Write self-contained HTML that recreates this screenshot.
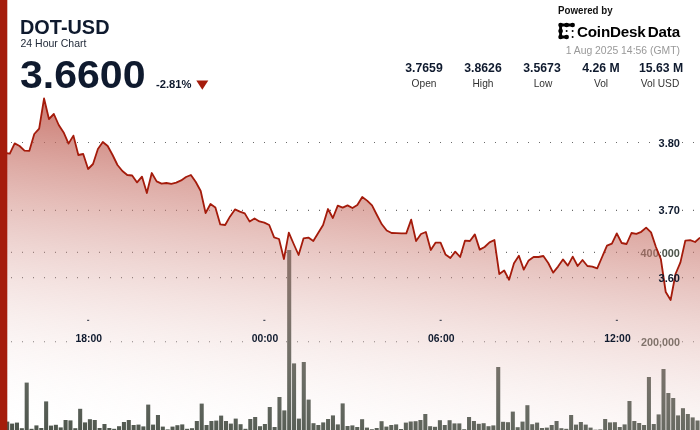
<!DOCTYPE html>
<html><head><meta charset="utf-8"><title>DOT-USD 24 Hour Chart</title>
<style>
html,body{margin:0;padding:0;background:#fff;}
body{width:700px;height:430px;overflow:hidden;font-family:"Liberation Sans","DejaVu Sans",sans-serif;}
#wrap{position:relative;width:700px;height:430px;overflow:hidden;background:#fff;}
#wrap svg{position:absolute;left:0;top:0;will-change:transform;opacity:0.999;}
#hdr{position:absolute;left:0;top:0;width:700px;height:100px;will-change:transform;opacity:0.999;}
.t{position:absolute;white-space:nowrap;line-height:1;color:#0f1a2e;}
.b{font-weight:bold;}
.c{transform:translateX(-50%);text-align:center;}
.v{transform:translateX(-50%) scaleX(1.02);}
.l{transform:translateX(-50%) scaleX(0.97);}
</style></head><body>
<div id="wrap">
<svg width="700" height="430" viewBox="0 0 700 430">
<defs>
<linearGradient id="g" x1="48.8" y1="-4.1" x2="0.0" y2="434.9" gradientUnits="userSpaceOnUse"><stop offset="0.0000" stop-color="rgb(165,28,12)" stop-opacity="1.0000"/><stop offset="0.0250" stop-color="rgb(167,34,18)" stop-opacity="0.9750"/><stop offset="0.0500" stop-color="rgb(170,39,24)" stop-opacity="0.9500"/><stop offset="0.0750" stop-color="rgb(172,45,30)" stop-opacity="0.9250"/><stop offset="0.1000" stop-color="rgb(174,51,36)" stop-opacity="0.9000"/><stop offset="0.1250" stop-color="rgb(176,56,42)" stop-opacity="0.8750"/><stop offset="0.1500" stop-color="rgb(178,62,48)" stop-opacity="0.8500"/><stop offset="0.1750" stop-color="rgb(181,68,55)" stop-opacity="0.8250"/><stop offset="0.2000" stop-color="rgb(183,73,61)" stop-opacity="0.8000"/><stop offset="0.2250" stop-color="rgb(185,79,67)" stop-opacity="0.7750"/><stop offset="0.2500" stop-color="rgb(188,85,73)" stop-opacity="0.7500"/><stop offset="0.2750" stop-color="rgb(190,90,79)" stop-opacity="0.7250"/><stop offset="0.3000" stop-color="rgb(192,96,85)" stop-opacity="0.7000"/><stop offset="0.3250" stop-color="rgb(194,102,91)" stop-opacity="0.6750"/><stop offset="0.3500" stop-color="rgb(196,107,97)" stop-opacity="0.6500"/><stop offset="0.3750" stop-color="rgb(199,113,103)" stop-opacity="0.6250"/><stop offset="0.4000" stop-color="rgb(201,119,109)" stop-opacity="0.6000"/><stop offset="0.4250" stop-color="rgb(203,124,115)" stop-opacity="0.5750"/><stop offset="0.4500" stop-color="rgb(206,130,121)" stop-opacity="0.5500"/><stop offset="0.4750" stop-color="rgb(208,136,127)" stop-opacity="0.5250"/><stop offset="0.5000" stop-color="rgb(210,142,134)" stop-opacity="0.5000"/><stop offset="0.5250" stop-color="rgb(212,147,140)" stop-opacity="0.4750"/><stop offset="0.5500" stop-color="rgb(214,153,146)" stop-opacity="0.4500"/><stop offset="0.5750" stop-color="rgb(217,159,152)" stop-opacity="0.4250"/><stop offset="0.6000" stop-color="rgb(219,164,158)" stop-opacity="0.4000"/><stop offset="0.6250" stop-color="rgb(221,170,164)" stop-opacity="0.3750"/><stop offset="0.6500" stop-color="rgb(224,176,170)" stop-opacity="0.3500"/><stop offset="0.6750" stop-color="rgb(226,181,176)" stop-opacity="0.3250"/><stop offset="0.7000" stop-color="rgb(228,187,182)" stop-opacity="0.3000"/><stop offset="0.7250" stop-color="rgb(230,193,188)" stop-opacity="0.2750"/><stop offset="0.7500" stop-color="rgb(232,198,194)" stop-opacity="0.2500"/><stop offset="0.7750" stop-color="rgb(235,204,200)" stop-opacity="0.2250"/><stop offset="0.8000" stop-color="rgb(237,210,206)" stop-opacity="0.2000"/><stop offset="0.8250" stop-color="rgb(239,215,212)" stop-opacity="0.1750"/><stop offset="0.8500" stop-color="rgb(242,221,219)" stop-opacity="0.1500"/><stop offset="0.8750" stop-color="rgb(244,227,225)" stop-opacity="0.1250"/><stop offset="0.9000" stop-color="rgb(246,232,231)" stop-opacity="0.1000"/><stop offset="0.9250" stop-color="rgb(248,238,237)" stop-opacity="0.0750"/><stop offset="0.9500" stop-color="rgb(250,244,243)" stop-opacity="0.0500"/><stop offset="0.9750" stop-color="rgb(253,249,249)" stop-opacity="0.0250"/><stop offset="1.0000" stop-color="rgb(255,255,255)" stop-opacity="0.0000"/></linearGradient>
</defs>
<g stroke="#6a6a6a" stroke-width="1.1" stroke-dasharray="1 10" fill="none">
<line x1="11" x2="700" y1="142.45" y2="142.45"/>
<line x1="11" x2="700" y1="210.35" y2="210.35"/>
<line x1="11" x2="700" y1="277.6" y2="277.6"/>
<line x1="11" x2="700" y1="252.4" y2="252.4"/>
<line x1="11" x2="700" y1="341.8" y2="341.8"/>
</g>
<g font-family="Liberation Sans, DejaVu Sans, sans-serif" font-weight="bold" font-size="10.5" fill="#fff" stroke="#fff" stroke-width="2.5" stroke-linejoin="round"><text transform="translate(680,146.5) scale(1.05,1)" text-anchor="end">3.80</text><text transform="translate(680,214.3) scale(1.05,1)" text-anchor="end">3.70</text><text transform="translate(680,282.1) scale(1.05,1)" text-anchor="end">3.60</text><text transform="translate(679.8,256.6) scale(1.035,1)" text-anchor="end">400,000</text><text transform="translate(680.0,346.2) scale(1.03,1)" text-anchor="end">200,000</text><text transform="translate(88.7,341.5) scale(0.935,1)" text-anchor="middle" font-size="11.1">18:00</text><text transform="translate(264.9,341.5) scale(0.935,1)" text-anchor="middle" font-size="11.1">00:00</text><text transform="translate(441.2,341.5) scale(0.935,1)" text-anchor="middle" font-size="11.1">06:00</text><text transform="translate(617.4,341.5) scale(0.935,1)" text-anchor="middle" font-size="11.1">12:00</text></g>
<g font-family="Liberation Sans, DejaVu Sans, sans-serif" font-weight="bold" font-size="10.5" text-anchor="end" fill="#4a5249">
<text transform="translate(679.8,256.6) scale(1.035,1)" text-anchor="end">400,000</text><text transform="translate(680.0,346.2) scale(1.03,1)" text-anchor="end">200,000</text>
</g>
<g fill="#4a5249">
<rect x="0.36" y="424.00" width="4.06" height="8.00"/>
<rect x="5.22" y="421.60" width="4.06" height="10.40"/>
<rect x="10.08" y="423.60" width="4.06" height="8.40"/>
<rect x="14.94" y="422.60" width="4.06" height="9.40"/>
<rect x="19.80" y="428.20" width="4.06" height="3.80"/>
<rect x="24.67" y="382.60" width="4.06" height="49.40"/>
<rect x="29.53" y="428.80" width="4.06" height="3.20"/>
<rect x="34.39" y="425.40" width="4.06" height="6.60"/>
<rect x="39.25" y="428.00" width="4.06" height="4.00"/>
<rect x="44.11" y="401.40" width="4.06" height="30.60"/>
<rect x="48.97" y="425.60" width="4.06" height="6.40"/>
<rect x="53.83" y="424.80" width="4.06" height="7.20"/>
<rect x="58.69" y="427.40" width="4.06" height="4.60"/>
<rect x="63.55" y="420.00" width="4.06" height="12.00"/>
<rect x="68.42" y="420.40" width="4.06" height="11.60"/>
<rect x="73.28" y="428.20" width="4.06" height="3.80"/>
<rect x="78.14" y="408.80" width="4.06" height="23.20"/>
<rect x="83.00" y="422.40" width="4.06" height="9.60"/>
<rect x="87.86" y="419.20" width="4.06" height="12.80"/>
<rect x="92.72" y="420.00" width="4.06" height="12.00"/>
<rect x="97.58" y="428.00" width="4.06" height="4.00"/>
<rect x="102.44" y="424.00" width="4.06" height="8.00"/>
<rect x="107.30" y="428.00" width="4.06" height="4.00"/>
<rect x="112.17" y="428.80" width="4.06" height="3.20"/>
<rect x="117.03" y="426.20" width="4.06" height="5.80"/>
<rect x="121.89" y="422.00" width="4.06" height="10.00"/>
<rect x="126.75" y="420.00" width="4.06" height="12.00"/>
<rect x="131.61" y="425.00" width="4.06" height="7.00"/>
<rect x="136.47" y="424.60" width="4.06" height="7.40"/>
<rect x="141.33" y="426.40" width="4.06" height="5.60"/>
<rect x="146.19" y="404.60" width="4.06" height="27.40"/>
<rect x="151.05" y="424.60" width="4.06" height="7.40"/>
<rect x="155.92" y="415.00" width="4.06" height="17.00"/>
<rect x="160.78" y="426.60" width="4.06" height="5.40"/>
<rect x="165.64" y="429.40" width="4.06" height="2.60"/>
<rect x="170.50" y="426.60" width="4.06" height="5.40"/>
<rect x="175.36" y="425.20" width="4.06" height="6.80"/>
<rect x="180.22" y="424.40" width="4.06" height="7.60"/>
<rect x="185.08" y="428.80" width="4.06" height="3.20"/>
<rect x="189.94" y="428.20" width="4.06" height="3.80"/>
<rect x="194.80" y="421.00" width="4.06" height="11.00"/>
<rect x="199.67" y="403.60" width="4.06" height="28.40"/>
<rect x="204.53" y="425.00" width="4.06" height="7.00"/>
<rect x="209.39" y="421.00" width="4.06" height="11.00"/>
<rect x="214.25" y="420.60" width="4.06" height="11.40"/>
<rect x="219.11" y="415.60" width="4.06" height="16.40"/>
<rect x="223.97" y="421.00" width="4.06" height="11.00"/>
<rect x="228.83" y="423.60" width="4.06" height="8.40"/>
<rect x="233.69" y="418.60" width="4.06" height="13.40"/>
<rect x="238.55" y="424.20" width="4.06" height="7.80"/>
<rect x="243.42" y="428.80" width="4.06" height="3.20"/>
<rect x="248.28" y="419.00" width="4.06" height="13.00"/>
<rect x="253.14" y="417.00" width="4.06" height="15.00"/>
<rect x="258.00" y="426.20" width="4.06" height="5.80"/>
<rect x="262.86" y="424.00" width="4.06" height="8.00"/>
<rect x="267.72" y="407.00" width="4.06" height="25.00"/>
<rect x="272.58" y="427.00" width="4.06" height="5.00"/>
<rect x="277.44" y="397.00" width="4.06" height="35.00"/>
<rect x="282.30" y="410.40" width="4.06" height="21.60"/>
<rect x="287.17" y="250.00" width="4.06" height="182.00"/>
<rect x="292.03" y="363.40" width="4.06" height="68.60"/>
<rect x="296.89" y="418.60" width="4.06" height="13.40"/>
<rect x="301.75" y="362.00" width="4.06" height="70.00"/>
<rect x="306.61" y="399.60" width="4.06" height="32.40"/>
<rect x="311.47" y="423.20" width="4.06" height="8.80"/>
<rect x="316.33" y="425.00" width="4.06" height="7.00"/>
<rect x="321.19" y="422.40" width="4.06" height="9.60"/>
<rect x="326.05" y="419.00" width="4.06" height="13.00"/>
<rect x="330.92" y="415.40" width="4.06" height="16.60"/>
<rect x="335.78" y="424.40" width="4.06" height="7.60"/>
<rect x="340.64" y="403.40" width="4.06" height="28.60"/>
<rect x="345.50" y="426.00" width="4.06" height="6.00"/>
<rect x="350.36" y="425.40" width="4.06" height="6.60"/>
<rect x="355.22" y="427.00" width="4.06" height="5.00"/>
<rect x="360.08" y="419.20" width="4.06" height="12.80"/>
<rect x="364.94" y="427.60" width="4.06" height="4.40"/>
<rect x="369.80" y="429.20" width="4.06" height="2.80"/>
<rect x="374.67" y="428.00" width="4.06" height="4.00"/>
<rect x="379.53" y="421.20" width="4.06" height="10.80"/>
<rect x="384.39" y="426.60" width="4.06" height="5.40"/>
<rect x="389.25" y="425.00" width="4.06" height="7.00"/>
<rect x="394.11" y="424.40" width="4.06" height="7.60"/>
<rect x="398.97" y="429.00" width="4.06" height="3.00"/>
<rect x="403.83" y="422.60" width="4.06" height="9.40"/>
<rect x="408.69" y="421.50" width="4.06" height="10.50"/>
<rect x="413.55" y="421.20" width="4.06" height="10.80"/>
<rect x="418.42" y="420.00" width="4.06" height="12.00"/>
<rect x="423.28" y="414.00" width="4.06" height="18.00"/>
<rect x="428.14" y="426.20" width="4.06" height="5.80"/>
<rect x="433.00" y="426.80" width="4.06" height="5.20"/>
<rect x="437.86" y="420.20" width="4.06" height="11.80"/>
<rect x="442.72" y="425.00" width="4.06" height="7.00"/>
<rect x="447.58" y="420.20" width="4.06" height="11.80"/>
<rect x="452.44" y="423.40" width="4.06" height="8.60"/>
<rect x="457.30" y="423.40" width="4.06" height="8.60"/>
<rect x="462.17" y="429.20" width="4.06" height="2.80"/>
<rect x="467.03" y="417.00" width="4.06" height="15.00"/>
<rect x="471.89" y="421.00" width="4.06" height="11.00"/>
<rect x="476.75" y="423.80" width="4.06" height="8.20"/>
<rect x="481.61" y="423.20" width="4.06" height="8.80"/>
<rect x="486.47" y="426.20" width="4.06" height="5.80"/>
<rect x="491.33" y="425.40" width="4.06" height="6.60"/>
<rect x="496.19" y="367.00" width="4.06" height="65.00"/>
<rect x="501.05" y="421.80" width="4.06" height="10.20"/>
<rect x="505.92" y="422.20" width="4.06" height="9.80"/>
<rect x="510.78" y="411.60" width="4.06" height="20.40"/>
<rect x="515.64" y="427.20" width="4.06" height="4.80"/>
<rect x="520.50" y="421.60" width="4.06" height="10.40"/>
<rect x="525.36" y="405.20" width="4.06" height="26.80"/>
<rect x="530.22" y="424.20" width="4.06" height="7.80"/>
<rect x="535.08" y="422.60" width="4.06" height="9.40"/>
<rect x="539.94" y="428.00" width="4.06" height="4.00"/>
<rect x="544.80" y="427.60" width="4.06" height="4.40"/>
<rect x="549.67" y="425.00" width="4.06" height="7.00"/>
<rect x="554.53" y="421.00" width="4.06" height="11.00"/>
<rect x="559.39" y="428.20" width="4.06" height="3.80"/>
<rect x="564.25" y="428.80" width="4.06" height="3.20"/>
<rect x="569.11" y="415.00" width="4.06" height="17.00"/>
<rect x="573.97" y="424.60" width="4.06" height="7.40"/>
<rect x="578.83" y="422.00" width="4.06" height="10.00"/>
<rect x="583.69" y="424.60" width="4.06" height="7.40"/>
<rect x="588.55" y="427.60" width="4.06" height="4.40"/>
<rect x="593.42" y="429.70" width="4.06" height="2.30"/>
<rect x="598.28" y="429.40" width="4.06" height="2.60"/>
<rect x="603.14" y="419.00" width="4.06" height="13.00"/>
<rect x="608.00" y="422.40" width="4.06" height="9.60"/>
<rect x="612.86" y="422.20" width="4.06" height="9.80"/>
<rect x="617.72" y="427.00" width="4.06" height="5.00"/>
<rect x="622.58" y="424.40" width="4.06" height="7.60"/>
<rect x="627.44" y="401.00" width="4.06" height="31.00"/>
<rect x="632.30" y="421.00" width="4.06" height="11.00"/>
<rect x="637.17" y="423.00" width="4.06" height="9.00"/>
<rect x="642.03" y="425.00" width="4.06" height="7.00"/>
<rect x="646.89" y="377.00" width="4.06" height="55.00"/>
<rect x="651.75" y="424.00" width="4.06" height="8.00"/>
<rect x="656.61" y="414.40" width="4.06" height="17.60"/>
<rect x="661.47" y="369.00" width="4.06" height="63.00"/>
<rect x="666.33" y="393.00" width="4.06" height="39.00"/>
<rect x="671.19" y="398.00" width="4.06" height="34.00"/>
<rect x="676.05" y="415.40" width="4.06" height="16.60"/>
<rect x="680.92" y="408.20" width="4.06" height="23.80"/>
<rect x="685.78" y="414.00" width="4.06" height="18.00"/>
<rect x="690.64" y="417.40" width="4.06" height="14.60"/>
<rect x="695.50" y="420.50" width="4.06" height="11.50"/>
</g>
<path d="M0.00,153.00 L4.90,153.00 L9.79,153.60 L14.69,143.40 L19.58,146.00 L24.48,150.60 L29.37,150.80 L34.27,134.00 L39.16,128.60 L44.06,98.50 L48.95,119.00 L53.85,114.00 L58.74,125.00 L63.64,132.40 L68.53,143.60 L73.43,135.60 L78.32,155.00 L83.22,154.00 L88.11,169.00 L93.01,164.00 L97.90,149.00 L102.80,142.00 L107.69,146.00 L112.59,155.00 L117.48,165.00 L122.38,171.00 L127.27,175.00 L132.17,175.50 L137.06,182.40 L141.96,176.60 L146.85,193.00 L151.75,173.00 L156.64,181.40 L161.54,183.60 L166.43,183.00 L171.33,183.80 L176.22,182.60 L181.12,180.40 L186.01,177.00 L190.91,175.00 L195.80,182.00 L200.70,191.00 L205.59,213.00 L210.49,204.00 L215.38,207.40 L220.28,224.40 L225.17,225.00 L230.07,216.40 L234.97,209.40 L239.86,211.60 L244.76,213.40 L249.65,221.60 L254.55,218.40 L259.44,221.40 L264.34,222.60 L269.23,225.00 L274.13,237.40 L279.02,239.00 L283.92,259.00 L288.81,232.60 L293.71,244.00 L298.60,255.00 L303.50,238.40 L308.39,237.60 L313.29,241.00 L318.18,233.00 L323.08,225.00 L327.97,209.00 L332.87,218.00 L337.76,205.60 L342.66,207.60 L347.55,205.40 L352.45,208.00 L357.34,205.00 L362.24,197.00 L367.13,200.60 L372.03,205.40 L376.92,215.00 L381.82,224.30 L386.71,230.50 L391.61,233.00 L396.50,233.20 L401.40,233.40 L406.29,233.40 L411.19,219.60 L416.08,241.00 L420.98,234.00 L425.87,232.00 L430.77,250.00 L435.66,242.60 L440.56,242.60 L445.45,254.40 L450.35,258.00 L455.24,251.60 L460.14,257.00 L465.03,240.60 L469.93,241.00 L474.83,234.40 L479.72,249.60 L484.62,247.00 L489.51,242.40 L494.41,240.00 L499.30,274.00 L504.20,270.50 L509.09,279.80 L513.99,263.30 L518.88,255.80 L523.78,269.60 L528.67,260.40 L533.57,257.00 L538.46,257.00 L543.36,256.00 L548.25,263.00 L553.15,272.60 L558.04,266.60 L562.94,259.40 L567.83,265.60 L572.73,256.60 L577.62,266.00 L582.52,260.00 L587.41,266.00 L592.31,266.60 L597.20,268.40 L602.10,257.00 L606.99,245.60 L611.89,243.60 L616.78,233.40 L621.68,243.00 L626.57,244.00 L631.47,233.00 L636.36,233.80 L641.26,231.80 L646.15,227.60 L651.05,232.40 L655.94,247.00 L660.84,259.00 L665.73,292.00 L670.63,300.00 L675.52,274.00 L680.42,262.40 L685.31,240.60 L690.21,240.20 L695.10,242.00 L700.00,237.60 L700,430 L0,430 Z" fill="url(#g)"/>
<path d="M0.00,153.00 L4.90,153.00 L9.79,153.60 L14.69,143.40 L19.58,146.00 L24.48,150.60 L29.37,150.80 L34.27,134.00 L39.16,128.60 L44.06,98.50 L48.95,119.00 L53.85,114.00 L58.74,125.00 L63.64,132.40 L68.53,143.60 L73.43,135.60 L78.32,155.00 L83.22,154.00 L88.11,169.00 L93.01,164.00 L97.90,149.00 L102.80,142.00 L107.69,146.00 L112.59,155.00 L117.48,165.00 L122.38,171.00 L127.27,175.00 L132.17,175.50 L137.06,182.40 L141.96,176.60 L146.85,193.00 L151.75,173.00 L156.64,181.40 L161.54,183.60 L166.43,183.00 L171.33,183.80 L176.22,182.60 L181.12,180.40 L186.01,177.00 L190.91,175.00 L195.80,182.00 L200.70,191.00 L205.59,213.00 L210.49,204.00 L215.38,207.40 L220.28,224.40 L225.17,225.00 L230.07,216.40 L234.97,209.40 L239.86,211.60 L244.76,213.40 L249.65,221.60 L254.55,218.40 L259.44,221.40 L264.34,222.60 L269.23,225.00 L274.13,237.40 L279.02,239.00 L283.92,259.00 L288.81,232.60 L293.71,244.00 L298.60,255.00 L303.50,238.40 L308.39,237.60 L313.29,241.00 L318.18,233.00 L323.08,225.00 L327.97,209.00 L332.87,218.00 L337.76,205.60 L342.66,207.60 L347.55,205.40 L352.45,208.00 L357.34,205.00 L362.24,197.00 L367.13,200.60 L372.03,205.40 L376.92,215.00 L381.82,224.30 L386.71,230.50 L391.61,233.00 L396.50,233.20 L401.40,233.40 L406.29,233.40 L411.19,219.60 L416.08,241.00 L420.98,234.00 L425.87,232.00 L430.77,250.00 L435.66,242.60 L440.56,242.60 L445.45,254.40 L450.35,258.00 L455.24,251.60 L460.14,257.00 L465.03,240.60 L469.93,241.00 L474.83,234.40 L479.72,249.60 L484.62,247.00 L489.51,242.40 L494.41,240.00 L499.30,274.00 L504.20,270.50 L509.09,279.80 L513.99,263.30 L518.88,255.80 L523.78,269.60 L528.67,260.40 L533.57,257.00 L538.46,257.00 L543.36,256.00 L548.25,263.00 L553.15,272.60 L558.04,266.60 L562.94,259.40 L567.83,265.60 L572.73,256.60 L577.62,266.00 L582.52,260.00 L587.41,266.00 L592.31,266.60 L597.20,268.40 L602.10,257.00 L606.99,245.60 L611.89,243.60 L616.78,233.40 L621.68,243.00 L626.57,244.00 L631.47,233.00 L636.36,233.80 L641.26,231.80 L646.15,227.60 L651.05,232.40 L655.94,247.00 L660.84,259.00 L665.73,292.00 L670.63,300.00 L675.52,274.00 L680.42,262.40 L685.31,240.60 L690.21,240.20 L695.10,242.00 L700.00,237.60" fill="none" stroke="#a41b0b" stroke-width="1.8" stroke-linejoin="round"/>
<g font-family="Liberation Sans, DejaVu Sans, sans-serif" font-weight="bold" font-size="10.5" fill="#0f1a2e">
<text transform="translate(680,146.5) scale(1.05,1)" text-anchor="end">3.80</text><text transform="translate(680,214.3) scale(1.05,1)" text-anchor="end">3.70</text><text transform="translate(680,282.1) scale(1.05,1)" text-anchor="end">3.60</text><text transform="translate(88.7,341.5) scale(0.935,1)" text-anchor="middle" font-size="11.1">18:00</text><text transform="translate(264.9,341.5) scale(0.935,1)" text-anchor="middle" font-size="11.1">00:00</text><text transform="translate(441.2,341.5) scale(0.935,1)" text-anchor="middle" font-size="11.1">06:00</text><text transform="translate(617.4,341.5) scale(0.935,1)" text-anchor="middle" font-size="11.1">12:00</text>
</g>
<g fill="#333a48">
<rect x="87.1" y="319.8" width="2.1" height="1.05"/><rect x="263.3" y="319.8" width="2.1" height="1.05"/><rect x="439.6" y="319.8" width="2.1" height="1.05"/><rect x="615.8" y="319.8" width="2.1" height="1.05"/>
</g>
<rect x="0" y="0" width="7.3" height="430" fill="#a51c0c"/>
<g fill="#000" stroke="#000">
<path d="M560.6,25 H572.6 M560.6,25 V37 H566.6" fill="none" stroke-width="2.9" stroke-linecap="round"/>
<circle cx="560.6" cy="25" r="2.35" stroke="none"/><circle cx="566.6" cy="25" r="2.35" stroke="none"/><circle cx="572.6" cy="25" r="2.35" stroke="none"/>
<circle cx="560.6" cy="31" r="2.35" stroke="none"/><circle cx="560.6" cy="37" r="2.35" stroke="none"/><circle cx="566.6" cy="37" r="2.35" stroke="none"/>
<circle cx="566.6" cy="31" r="1.0" stroke="none"/><circle cx="572.6" cy="31" r="1.0" stroke="none"/><circle cx="572.6" cy="37" r="1.0" stroke="none"/>
</g>
<path d="M196.3,80.5 H208.3 L202.3,89.7 Z" fill="#a51c0c"/>
</svg>
<div id="hdr">
<div class="t b" id="title" style="left:20px;top:17.6px;font-size:19.5px;transform-origin:0 0;transform:scaleX(1.02);">DOT-USD</div>
<div class="t" id="sub" style="left:20.5px;top:37.5px;font-size:10.5px;color:#222b3a;">24 Hour Chart</div>
<div class="t b" id="price" style="left:20.4px;top:54.5px;font-size:39px;transform-origin:0 0;transform:scaleX(1.052);">3.6600</div>
<div class="t b" id="chg" style="left:155.9px;top:78.7px;font-size:11px;transform-origin:0 0;transform:scaleX(1.02);">-2.81%</div>
<div class="t b" id="pow" style="left:558.2px;top:6.4px;font-size:10.3px;color:#111;transform-origin:0 0;transform:scaleX(0.944);">Powered by</div>
<div class="t b" id="cd" style="left:576.6px;top:23.5px;font-size:15px;color:#000;letter-spacing:-0.2px;transform-origin:0 0;transform:scaleX(1.014);">CoinDesk<span style="letter-spacing:-2px;"> </span>Data</div>
<div class="t" id="date" style="right:20px;top:46.1px;font-size:10.4px;color:#999;">1 Aug 2025 14:56 (GMT)</div>
<div class="t b c v" style="left:424px;top:61.6px;font-size:12px;">3.7659</div>
<div class="t b c v" style="left:483px;top:61.6px;font-size:12px;">3.8626</div>
<div class="t b c v" style="left:542px;top:61.6px;font-size:12px;">3.5673</div>
<div class="t b c v" style="left:601px;top:61.6px;font-size:12px;">4.26 M</div>
<div class="t b c v" style="left:660.5px;top:61.6px;font-size:12px;">15.63 M</div>
<div class="t c l" style="left:424px;top:77.5px;font-size:10.5px;color:#333;">Open</div>
<div class="t c l" style="left:483.4px;top:77.5px;font-size:10.5px;color:#333;">High</div>
<div class="t c l" style="left:542.5px;top:77.5px;font-size:10.5px;color:#333;">Low</div>
<div class="t c l" style="left:601.4px;top:77.5px;font-size:10.5px;color:#333;">Vol</div>
<div class="t c l" style="left:660.4px;top:77.5px;font-size:10.5px;color:#333;">Vol USD</div>
</div>
</div>
</body></html>
